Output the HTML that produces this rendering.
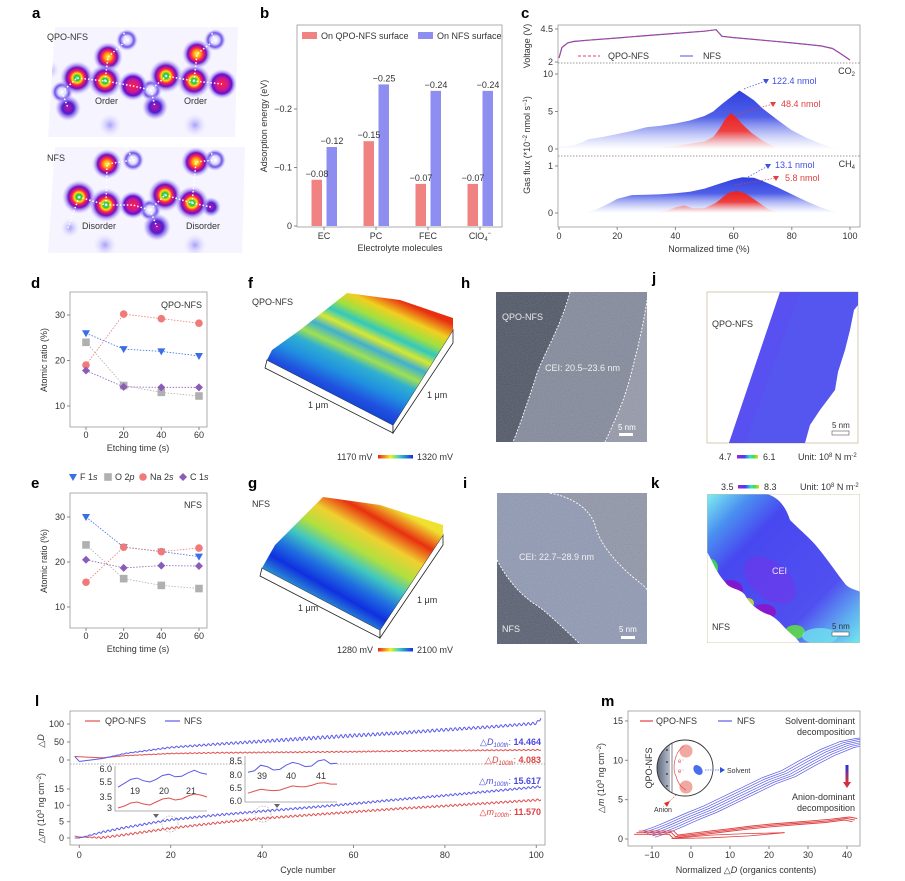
<!DOCTYPE html>
<html><head><meta charset="utf-8">
<style>
body{margin:0;background:#fff;}
svg{display:block;font-family:"Liberation Sans",sans-serif;}
.pl{font-weight:bold;font-size:15px;fill:#000;}
.tk{font-size:9px;fill:#333;}
.lb{font-size:9px;fill:#333;}
</style></head>
<body>
<svg id="fig" width="905" height="881" viewBox="0 0 905 881" xmlns="http://www.w3.org/2000/svg">
<defs>
<radialGradient id="spotG"><stop offset="0" stop-color="#9cf0ff"/><stop offset="0.14" stop-color="#20c040"/><stop offset="0.28" stop-color="#ffe000"/><stop offset="0.42" stop-color="#ff2050"/><stop offset="0.62" stop-color="#7010c0"/><stop offset="0.8" stop-color="#9a80f0" stop-opacity="0.6"/><stop offset="1" stop-color="#c8c0ff" stop-opacity="0"/></radialGradient>
<radialGradient id="spotY"><stop offset="0" stop-color="#fff080"/><stop offset="0.22" stop-color="#ffb000"/><stop offset="0.42" stop-color="#ff2050"/><stop offset="0.62" stop-color="#7010c0"/><stop offset="0.8" stop-color="#9a80f0" stop-opacity="0.6"/><stop offset="1" stop-color="#c8c0ff" stop-opacity="0"/></radialGradient>
<radialGradient id="spotR"><stop offset="0" stop-color="#ff2040"/><stop offset="0.4" stop-color="#d01890"/><stop offset="0.65" stop-color="#6010d0"/><stop offset="0.82" stop-color="#9a80f0" stop-opacity="0.6"/><stop offset="1" stop-color="#c8c0ff" stop-opacity="0"/></radialGradient>
<radialGradient id="spotP"><stop offset="0" stop-color="#c010a0"/><stop offset="0.45" stop-color="#5020d0"/><stop offset="0.75" stop-color="#9a80f0" stop-opacity="0.6"/><stop offset="1" stop-color="#c8c0ff" stop-opacity="0"/></radialGradient>
<radialGradient id="spotW"><stop offset="0" stop-color="#ffffff"/><stop offset="0.35" stop-color="#e0e0ff"/><stop offset="0.65" stop-color="#7050e8"/><stop offset="1" stop-color="#c8c0ff" stop-opacity="0"/></radialGradient>
<radialGradient id="spotF"><stop offset="0" stop-color="#a8a0f8"/><stop offset="1" stop-color="#e8e6ff" stop-opacity="0"/></radialGradient>
<linearGradient id="gradBlue" x1="0" y1="0" x2="0" y2="1"><stop offset="0" stop-color="#3040e0"/><stop offset="0.45" stop-color="#5060e8"/><stop offset="1" stop-color="#ffffff" stop-opacity="0.6"/></linearGradient>
<linearGradient id="gradRed" x1="0" y1="0" x2="0" y2="1"><stop offset="0" stop-color="#e82020"/><stop offset="0.5" stop-color="#ee4040"/><stop offset="1" stop-color="#ffffff" stop-opacity="0.6"/></linearGradient>
<linearGradient id="surfF" gradientUnits="userSpaceOnUse" x1="400" y1="300" x2="350" y2="410">
<stop offset="0" stop-color="#e83010"/><stop offset="0.12" stop-color="#f0d020"/><stop offset="0.22" stop-color="#a0e040"/><stop offset="0.3" stop-color="#30c8c0"/><stop offset="0.38" stop-color="#d8e830"/><stop offset="0.46" stop-color="#40b0d0"/><stop offset="0.55" stop-color="#a0e050"/><stop offset="0.63" stop-color="#30b0d0"/><stop offset="0.75" stop-color="#2090e0"/><stop offset="0.88" stop-color="#2050e0"/><stop offset="1" stop-color="#1040d0"/></linearGradient>
<linearGradient id="surfG" gradientUnits="userSpaceOnUse" x1="390" y1="505" x2="330" y2="610">
<stop offset="0" stop-color="#f0e030"/><stop offset="0.15" stop-color="#e83010"/><stop offset="0.3" stop-color="#f0d030"/><stop offset="0.45" stop-color="#b0e040"/><stop offset="0.58" stop-color="#40c8c0"/><stop offset="0.72" stop-color="#2070e0"/><stop offset="0.85" stop-color="#1030e0"/><stop offset="1" stop-color="#30a0d0"/></linearGradient>
<linearGradient id="cbJet" x1="0" x2="1"><stop offset="0" stop-color="#f02010"/><stop offset="0.35" stop-color="#f0f020"/><stop offset="0.6" stop-color="#40d0c0"/><stop offset="1" stop-color="#1030e0"/></linearGradient>
<linearGradient id="cbStress" x1="0" x2="1"><stop offset="0" stop-color="#a020e0"/><stop offset="0.35" stop-color="#4040f0"/><stop offset="0.6" stop-color="#30e0d0"/><stop offset="0.8" stop-color="#40e040"/><stop offset="1" stop-color="#f0d020"/></linearGradient>
<linearGradient id="arrowGrad" x1="0" y1="0" x2="0" y2="1"><stop offset="0" stop-color="#2030e0"/><stop offset="1" stop-color="#e03030"/></linearGradient>
<linearGradient id="kBg" gradientUnits="userSpaceOnUse" x1="707" y1="494" x2="860" y2="643"><stop offset="0" stop-color="#80f0f0"/><stop offset="0.15" stop-color="#4a90f0"/><stop offset="0.3" stop-color="#4848f0"/><stop offset="0.72" stop-color="#5050f0"/><stop offset="0.88" stop-color="#60b0f0"/><stop offset="1" stop-color="#70e8f0"/></linearGradient>
<linearGradient id="insetDark" x1="0" x2="1"><stop offset="0" stop-color="#505a70"/><stop offset="1" stop-color="#b8c0d0"/></linearGradient>
<filter id="noise" x="0" y="0" width="100%" height="100%"><feTurbulence type="fractalNoise" baseFrequency="0.9" numOctaves="2" seed="3"/><feColorMatrix type="matrix" values="0 0 0 0 1  0 0 0 0 1  0 0 0 0 1  0 0 0 0.55 0"/></filter>
<clipPath id="clipA1"><polygon points="55,27 238,27 235,137 48,137"/></clipPath>
<clipPath id="clipA2"><polygon points="55,147 245,147 242,253 48,253"/></clipPath>
<clipPath id="clipH"><rect x="496" y="292" width="151" height="150"/></clipPath>
<clipPath id="clipI"><rect x="497" y="493" width="150" height="151"/></clipPath>
<clipPath id="clipK"><rect x="707" y="494" width="153" height="149"/></clipPath>
<clipPath id="clipL"><rect x="70" y="711" width="475" height="134"/></clipPath>
<clipPath id="clipM"><rect x="628" y="711" width="232" height="135"/></clipPath>
<clipPath id="clipCirc"><circle cx="685" cy="768" r="28"/></clipPath>
</defs>

<text class="pl" x="32" y="18">a</text>
<text class="pl" x="260" y="18">b</text>
<text class="pl" x="521" y="18">c</text>
<text class="pl" x="31" y="288">d</text>
<text class="pl" x="31" y="488">e</text>
<text class="pl" x="248" y="288">f</text>
<text class="pl" x="248" y="488">g</text>
<text class="pl" x="461" y="288">h</text>
<text class="pl" x="463" y="488">i</text>
<text class="pl" x="652" y="283">j</text>
<text class="pl" x="651" y="488">k</text>
<text class="pl" x="35" y="706">l</text>
<text class="pl" x="601" y="706">m</text>

<!-- Panel a -->
<g clip-path="url(#clipA1)">
<rect x="40" y="20" width="210" height="125" fill="#f6f5ff"/>
<circle cx="110" cy="125" r="12" fill="url(#spotF)"/><circle cx="195" cy="125" r="12" fill="url(#spotF)"/><circle cx="50" cy="70" r="10" fill="url(#spotF)"/>
<circle cx="62" cy="92" r="11" fill="url(#spotW)"/><circle cx="151" cy="90" r="11" fill="url(#spotW)"/><circle cx="127" cy="40" r="11" fill="url(#spotW)"/><circle cx="215" cy="40" r="11" fill="url(#spotW)"/>
<circle cx="68" cy="108" r="13" fill="url(#spotP)"/><circle cx="155" cy="107" r="13" fill="url(#spotP)"/>
<circle cx="133" cy="86" r="15" fill="url(#spotR)"/><circle cx="222" cy="84" r="15" fill="url(#spotR)"/>
<circle cx="108" cy="57" r="15" fill="url(#spotY)"/><circle cx="197" cy="54" r="15" fill="url(#spotY)"/>
<circle cx="77" cy="78" r="17" fill="url(#spotG)"/><circle cx="105" cy="81" r="17" fill="url(#spotG)"/><circle cx="166" cy="76" r="17" fill="url(#spotG)"/><circle cx="194" cy="81" r="17" fill="url(#spotG)"/>
<polyline points="62,92 77,78 105,81 133,86 151,90 166,76 194,81 222,84" fill="none" stroke="#fff" stroke-width="1.5" stroke-dasharray="1.5,2"/>
<polyline points="62,92 68,108" fill="none" stroke="#fff" stroke-width="1.5" stroke-dasharray="1.5,2"/>
<polyline points="151,90 155,107" fill="none" stroke="#fff" stroke-width="1.5" stroke-dasharray="1.5,2"/>
<polyline points="105,81 108,57 127,40 120,25" fill="none" stroke="#fff" stroke-width="1.5" stroke-dasharray="1.5,2"/>
<polyline points="194,81 197,54 215,40 208,25" fill="none" stroke="#fff" stroke-width="1.5" stroke-dasharray="1.5,2"/>
</g>
<text class="lb" x="47" y="40">QPO-NFS</text>
<text class="lb" x="95" y="104">Order</text>
<text class="lb" x="184" y="104">Order</text>
<g clip-path="url(#clipA2)">
<rect x="40" y="140" width="215" height="120" fill="#f6f5ff"/>
<circle cx="70" cy="228" r="10" fill="url(#spotF)"/><circle cx="105" cy="245" r="12" fill="url(#spotF)"/><circle cx="195" cy="245" r="12" fill="url(#spotF)"/>
<circle cx="150" cy="210" r="11" fill="url(#spotW)"/><circle cx="133" cy="160" r="11" fill="url(#spotW)"/><circle cx="215" cy="160" r="11" fill="url(#spotW)"/>
<circle cx="157" cy="227" r="14" fill="url(#spotP)"/><circle cx="211" cy="207" r="10" fill="url(#spotP)"/>
<circle cx="133" cy="205" r="14" fill="url(#spotR)"/>
<circle cx="107" cy="164" r="15" fill="url(#spotY)"/><circle cx="196" cy="162" r="15" fill="url(#spotY)"/>
<circle cx="79" cy="197" r="17" fill="url(#spotG)"/><circle cx="106" cy="205" r="17" fill="url(#spotG)"/><circle cx="165" cy="195" r="17" fill="url(#spotG)"/><circle cx="192" cy="203" r="17" fill="url(#spotG)"/>
<polyline points="79,197 106,205 133,205 150,210 165,195 192,203 211,207" fill="none" stroke="#fff" stroke-width="1.5" stroke-dasharray="1.5,2"/>
<polyline points="150,210 157,227" fill="none" stroke="#fff" stroke-width="1.5" stroke-dasharray="1.5,2"/>
<polyline points="79,197 68,228" fill="none" stroke="#fff" stroke-width="1.5" stroke-dasharray="1.5,2"/>
<polyline points="106,205 107,164 133,160 125,145" fill="none" stroke="#fff" stroke-width="1.5" stroke-dasharray="1.5,2"/>
<polyline points="192,203 196,162 215,160 207,145" fill="none" stroke="#fff" stroke-width="1.5" stroke-dasharray="1.5,2"/>
</g>
<text class="lb" x="47" y="161">NFS</text>
<text class="lb" x="82" y="229">Disorder</text>
<text class="lb" x="186" y="229">Disorder</text>

<!-- Panel f -->
<g>
<polygon points="267,360 393,425 393,433 265,368" fill="#fff" stroke="#222" stroke-width="0.8"/>
<polygon points="393,425 453,330 453,343 393,433" fill="#fff" stroke="#222" stroke-width="0.8"/>
<polygon points="267,360 272,350 300,330 347,293 400,300 453,318 453,330 393,425" fill="url(#surfF)"/>
</g>
<text class="lb" x="252" y="305">QPO-NFS</text>
<text class="lb" x="308" y="408">1 μm</text>
<text class="lb" x="427" y="398">1 μm</text>
<text class="lb" x="337" y="460">1170 mV</text>
<rect x="378" y="455" width="35" height="3.5" fill="url(#cbJet)"/>
<text class="lb" x="417" y="460">1320 mV</text>

<!-- Panel g -->
<g>
<polygon points="262,568 380,630 380,638 260,576" fill="#fff" stroke="#222" stroke-width="0.8"/>
<polygon points="380,630 443,535 443,545 380,638" fill="#fff" stroke="#222" stroke-width="0.8"/>
<polygon points="262,568 275,545 300,520 323,497 380,505 443,525 443,535 380,630" fill="url(#surfG)"/>
</g>
<text class="lb" x="252" y="507">NFS</text>
<text class="lb" x="298" y="611">1 μm</text>
<text class="lb" x="417" y="603">1 μm</text>
<text class="lb" x="337" y="653">1280 mV</text>
<rect x="378" y="648" width="35" height="3.5" fill="url(#cbJet)"/>
<text class="lb" x="417" y="653">2100 mV</text>

<!-- Panel h -->
<g clip-path="url(#clipH)">
<rect x="496" y="292" width="151" height="150" fill="#4c5262"/>
<path d="M570,292 C560,330 540,360 535,380 C528,400 522,420 513,442 L605,442 C615,420 625,400 632,370 C640,340 645,315 647,300 L647,292 Z" fill="#7e8496"/>
<path d="M647,300 C645,315 640,340 632,370 C625,400 615,420 605,442 L647,442 Z" fill="#8f93a3"/>
<rect x="496" y="292" width="151" height="150" filter="url(#noise)" opacity="0.35"/>
<path d="M570,292 C560,330 540,360 535,380 C528,400 522,420 513,442" fill="none" stroke="#fff" stroke-width="0.9" stroke-dasharray="2,1.5"/>
<path d="M647,300 C645,315 640,340 632,370 C625,400 615,420 605,442" fill="none" stroke="#fff" stroke-width="0.9" stroke-dasharray="2,1.5"/>
<rect x="619" y="433" width="14" height="3" fill="#fff"/>
</g>
<text class="lb" x="502" y="320" style="fill:#e8e8e8">QPO-NFS</text>
<text class="lb" x="545" y="371" style="fill:#f0f0f0">CEI: 20.5–23.6 nm</text>
<text class="lb" x="618" y="430" style="fill:#fff;font-size:8px">5 nm</text>

<!-- Panel i -->
<g clip-path="url(#clipI)">
<rect x="497" y="493" width="150" height="151" fill="#8b90a2"/>
<path d="M550,493 C575,498 590,510 595,525 C600,545 615,560 625,570 C635,580 645,585 647,590 L647,644 L580,644 C560,625 545,610 533,603 C515,590 505,575 497,560 L497,493 Z" fill="#8a93ad"/>
<path d="M497,560 C505,575 515,590 533,603 C545,610 560,625 580,644 L497,644 Z" fill="#545b6c"/>
<rect x="497" y="493" width="150" height="151" filter="url(#noise)" opacity="0.35"/>
<path d="M550,493 C575,498 590,510 595,525 C600,545 615,560 625,570 C635,580 645,585 647,590" fill="none" stroke="#fff" stroke-width="0.9" stroke-dasharray="2,1.5"/>
<path d="M497,560 C505,575 515,590 533,603 C545,610 560,625 580,644" fill="none" stroke="#fff" stroke-width="0.9" stroke-dasharray="2,1.5"/>
<rect x="621" y="636" width="14" height="3" fill="#fff"/>
</g>
<text class="lb" x="519" y="560" style="fill:#f0f0f0">CEI: 22.7–28.9 nm</text>
<text class="lb" x="502" y="632" style="fill:#f0f0f0">NFS</text>
<text class="lb" x="619" y="632" style="fill:#fff;font-size:8px">5 nm</text>

<!-- Panel j -->
<g>
<rect x="707" y="292" width="151" height="151" fill="#fff" stroke="#c8c0a0" stroke-width="0.8"/>
<polygon points="780,292 858,292 858,305 854,310 850,330 845,350 838,372 835,390 820,410 810,425 805,443 729,443" fill="#5555f0"/>
<polygon points="780,292 800,292 745,443 729,443" fill="#5a4cf0" opacity="0.6"/>
<rect x="832" y="431" width="17" height="4" fill="#fff" stroke="#555" stroke-width="0.6"/>
</g>
<text class="lb" x="712" y="327">QPO-NFS</text>
<text class="lb" x="832" y="428" style="font-size:8px">5 nm</text>
<text class="lb" x="719" y="460">4.7</text>
<rect x="737" y="455" width="21" height="3.5" fill="url(#cbStress)"/>
<text class="lb" x="763" y="460">6.1</text>
<text class="lb" x="798" y="460">Unit: 10<tspan font-size="6" dy="-3">8</tspan><tspan dy="3"> N m</tspan><tspan font-size="6" dy="-3">-2</tspan></text>

<!-- Panel k -->
<text class="lb" x="721" y="490">3.5</text>
<rect x="738" y="485" width="21" height="3.5" fill="url(#cbStress)"/>
<text class="lb" x="764" y="490">8.3</text>
<text class="lb" x="800" y="490">Unit: 10<tspan font-size="6" dy="-3">8</tspan><tspan dy="3"> N m</tspan><tspan font-size="6" dy="-3">-2</tspan></text>
<g clip-path="url(#clipK)">
<rect x="707" y="494" width="153" height="149" fill="url(#kBg)"/>
<ellipse cx="770" cy="580" rx="30" ry="18" fill="#7a30e8" opacity="0.5" transform="rotate(40 770 580)"/>
<ellipse cx="730" cy="590" rx="13" ry="10" fill="#8a10c8" opacity="0.85"/>
<ellipse cx="764" cy="612" rx="12" ry="8" fill="#9010c8" opacity="0.85"/>
<ellipse cx="748" cy="603" rx="6" ry="5" fill="#d0e030" opacity="0.85"/>
<ellipse cx="711" cy="568" rx="7" ry="9" fill="#40e040" opacity="0.85"/>
<ellipse cx="795" cy="632" rx="10" ry="7" fill="#60e040" opacity="0.85"/>
<ellipse cx="820" cy="636" rx="18" ry="8" fill="#70e0f0" opacity="0.8"/>
<path d="M767,494 C780,498 786,508 790,520 C800,530 812,540 818,548 C828,560 838,575 846,585 C852,590 858,590 860,592 L860,494 Z" fill="#fff"/>
<path d="M707,552 C712,560 716,572 725,582 C730,590 740,588 745,595 C750,605 760,612 770,615 C780,620 785,630 795,637 L800,643 L707,643 Z" fill="#fff"/>
<rect x="707" y="494" width="153" height="149" fill="none" stroke="#c8c0a0" stroke-width="0.8"/>
<rect x="832" y="632" width="17" height="4" fill="#fff" stroke="#555" stroke-width="0.6"/>
</g>
<text class="lb" x="772" y="574" style="fill:#e8e8ff">CEI</text>
<text class="lb" x="712" y="630">NFS</text>
<text class="lb" x="832" y="629" style="font-size:8px">5 nm</text>

<g id="charts"></g>
</svg>

<script>
const NS = 'http://www.w3.org/2000/svg';
const root = document.getElementById('charts');
function mk(tag, attrs, parent) {
  const e = document.createElementNS(NS, tag);
  for (const k in attrs) e.setAttribute(k, attrs[k]);
  (parent || root).appendChild(e);
  return e;
}
function txt(x, y, s, cls, anchor, parent) {
  const t = mk('text', {x: x, y: y, class: cls || 'tk', 'text-anchor': anchor || 'start'}, parent);
  t.textContent = s;
  return t;
}
function pts(xs, ys, fx, fy) { return xs.map((v, i) => fx(v).toFixed(1) + ',' + fy(ys[i]).toFixed(1)).join(' '); }

/* ===== Panel b data ===== */
const bCats = ['EC', 'PC', 'FEC', 'ClO4'];
const bQpo = [-0.079, -0.145, -0.072, -0.072];
const bNfs = [-0.135, -0.242, -0.231, -0.231];
const bQpoLabels = ['−0.08', '−0.15', '−0.07', '−0.07'];
const bNfsLabels = ['−0.12', '−0.25', '−0.24', '−0.24'];
const bTicks = [0, -0.1, -0.2];
const bTickLabels = ['0', '−0.1', '−0.2'];

/* ===== Panel c data ===== */
const cTime = [0, 1, 3, 5, 10, 20, 30, 40, 50, 54, 55, 56, 60, 70, 80, 90, 94, 97, 100];
const cVolt = [2.3, 3.1, 3.45, 3.55, 3.65, 3.82, 4.0, 4.17, 4.33, 4.45, 4.2, 3.95, 3.85, 3.65, 3.45, 3.22, 3.02, 2.6, 2.15];
const cCo2T = [0, 5, 8, 10, 15, 20, 25, 30, 35, 40, 45, 50, 53, 56, 59, 62, 64, 67, 70, 75, 80, 85, 90, 93, 96, 100];
const cCo2Nfs = [0.3, 0.5, 0.9, 1.3, 1.6, 2.0, 2.4, 2.9, 3.1, 3.4, 3.8, 4.4, 5.0, 6.0, 6.9, 7.8, 7.3, 6.5, 5.4, 3.9, 2.5, 1.5, 0.7, 0.3, 0.05, 0];
const cCo2QT = [30, 35, 40, 45, 50, 53, 55, 57, 59, 61, 63, 66, 70, 74, 78];
const cCo2Qpo = [0, 0.2, 0.4, 0.7, 1.0, 1.6, 2.6, 3.9, 4.8, 4.2, 3.3, 2.2, 1.1, 0.3, 0];
const cCh4T = [0, 10, 13, 17, 20, 25, 30, 35, 40, 45, 50, 55, 60, 63, 67, 70, 75, 80, 85, 90, 95, 100];
const cCh4Nfs = [0, 0.02, 0.08, 0.2, 0.3, 0.38, 0.39, 0.4, 0.42, 0.45, 0.52, 0.62, 0.72, 0.76, 0.75, 0.68, 0.55, 0.4, 0.25, 0.12, 0.02, 0];
const cCh4QT = [32, 37, 40, 43, 46, 50, 54, 58, 61, 64, 68, 72, 76];
const cCh4Qpo = [0, 0.05, 0.12, 0.16, 0.1, 0.1, 0.22, 0.42, 0.47, 0.42, 0.25, 0.08, 0];
const cXTicks = [0, 20, 40, 60, 80, 100];

/* ===== Panels d,e data ===== */
const dTime = [0, 20, 40, 60];
const dF = [26, 22.5, 22, 21];
const dO = [24, 14.5, 13, 12.2];
const dNa = [19, 30.2, 29.2, 28.2];
const dC = [17.8, 14.2, 14.1, 14.1];
const eF = [30, 23.3, 22.3, 21.2];
const eO = [23.8, 16.3, 14.8, 14.1];
const eNa = [15.5, 23.3, 22.3, 23.1];
const eC = [20.5, 18.7, 19.2, 19.1];
const deYTicks = [10, 20, 30];

/* ===== Panel l data ===== */
const lCycles = [-1, 0, 5, 10, 20, 30, 40, 50, 60, 70, 80, 90, 100, 101];
const lNfsD = [10, -4, 4, 18, 35, 44, 52, 60, 68, 75, 84, 92, 102, 116];
const lQpoD = [10, 9, 6, 12, 18, 20, 21, 22, 23, 25, 26, 27, 28, 28];
const lNfsDAmp = [0, 0, 0, 1, 2, 3, 4, 4.5, 4.5, 4, 4, 3.5, 3.5, 3.5];
const lQpoDAmp = [0, 0, 0, 0.5, 1, 1.5, 1.5, 1.5, 1.5, 1.5, 1.5, 1.5, 1.5, 1.5];
const lNfsM = [0, 0, 1.8, 3.2, 5.6, 7.0, 8.2, 9.3, 10.5, 11.8, 13.0, 14.3, 15.6, 15.7];
const lQpoM = [0.6, 0.3, 0.1, 1.0, 3.0, 4.6, 6.0, 7.0, 8.0, 9.0, 9.8, 10.7, 11.6, 11.7];
const lMAmp = [0, 0, 0.3, 0.3, 0.3, 0.3, 0.3, 0.3, 0.3, 0.3, 0.3, 0.3, 0.3, 0.3];
const lXTicks = [0, 20, 40, 60, 80, 100];
const lDTicks = [0, 50, 100];
const lMTicks = [0, 5, 10, 15];
const in1Nfs = [5.3, 5.45, 5.6, 5.65, 5.55, 5.5, 5.6, 5.75, 5.8, 5.7, 5.72, 5.85, 5.95, 5.85, 5.8];
const in1Qpo = [3.0, 3.1, 3.25, 3.3, 3.2, 3.15, 3.3, 3.45, 3.5, 3.4, 3.45, 3.6, 3.7, 3.65, 3.55];
const in2Nfs = [8.1, 8.15, 8.35, 8.3, 8.18, 8.2, 8.35, 8.45, 8.4, 8.3, 8.32, 8.5, 8.55, 8.4, 8.42];
const in2Qpo = [6.3, 6.38, 6.45, 6.42, 6.4, 6.42, 6.5, 6.58, 6.55, 6.55, 6.6, 6.68, 6.7, 6.65, 6.65];

/* ===== Panel m data ===== */
const mNfsX = [-11, -8, -5, 0, 5, 10, 15, 20, 25, 30, 35, 40, 44, 46];
const mNfsY = [0.6, 1.1, 1.7, 2.8, 3.8, 5.0, 6.2, 7.4, 8.3, 9.7, 11.0, 12.0, 12.4, 12.5];
const mQpoX = [-14, -5, -4, 0, 5, 10, 15, 20, 25, 30, 35, 40, 42];
const mQpoY = [0.8, 0.8, 0.3, 0.55, 0.85, 1.15, 1.45, 1.7, 1.9, 2.1, 2.3, 2.6, 2.4];
const mLoopX = [-5, 5, 15, 24, 15, 5, -5];
const mLoopY = [0.05, 0.15, 0.4, 0.8, 0.7, 0.5, 0.05];
const mXTicks = [-10, 0, 10, 20, 30, 40];
const mYTicks = [0, 5, 10, 15];

function interp(xs, ys, x) {
  if (x <= xs[0]) return ys[0];
  for (let i = 1; i < xs.length; i++) if (x <= xs[i]) { const f = (x - xs[i-1]) / (xs[i] - xs[i-1]); return ys[i-1] + f * (ys[i] - ys[i-1]); }
  return ys[ys.length - 1];
}

/* ===== Draw panel b ===== */
(function(){
  const g = mk('g', {});
  
  
  const xB = i => 324 + 52 * i;
  const yB = v => 226 + v * 585;
  const frame = mk('rect', {x: 297, y: 25, width: 205, height: 202, fill: 'none', stroke: '#999', 'stroke-width': 0.8}, g);
  
  
  bTicks.forEach((v, i) => {
    mk('line', {x1: 294, x2: 297, y1: yB(v), y2: yB(v), stroke: '#888'}, g);
    const t = txt(292, yB(v) + 3, bTickLabels[i], 'tk', 'end', g);
    
    
  });
  bCats.forEach((c, i) => {
    const r = mk('rect', {x: xB(i) - 12.5, y: yB(bQpo[i]), width: 10.5, height: 226 - yB(bQpo[i]), fill: '#f08282'}, g);
    
    
    const b = mk('rect', {x: xB(i) + 2.5, y: yB(bNfs[i]), width: 10.5, height: 226 - yB(bNfs[i]), fill: '#8e8ef0'}, g);
    
    
    const l1 = txt(xB(i) - 7, yB(bQpo[i]) - 3, bQpoLabels[i], 'tk', 'middle', g);
    
    
    const l2 = txt(xB(i) + 8, yB(bNfs[i]) - 3, bNfsLabels[i], 'tk', 'middle', g);
    
    
    mk('line', {x1: xB(i), x2: xB(i), y1: 227, y2: 230, stroke: '#888'}, g);
    const ct = txt(xB(i), 239, c === 'ClO4' ? '' : c, 'tk', 'middle', g);
    if (c === 'ClO4') { ct.innerHTML = 'ClO<tspan font-size="6" dy="2">4</tspan><tspan font-size="6" dy="-6">−</tspan>'; }
    
    
  });
  const xt = txt(400, 251, 'Electrolyte molecules', 'lb', 'middle', g);
  
  
  const yt = txt(0, 0, 'Adsorption energy (eV)', 'lb', 'middle', g);
  yt.setAttribute('transform', 'translate(267,126) rotate(-90)');
  
  
  const s1 = mk('rect', {x: 302, y: 32, width: 15, height: 7, fill: '#f08282'}, g);
  
  
  const lt1 = txt(321, 39, 'On QPO-NFS surface', 'tk', 'start', g);
  
  
  const s2 = mk('rect', {x: 418, y: 32, width: 15, height: 7, fill: '#8e8ef0'}, g);
  
  
  const lt2 = txt(437, 39, 'On NFS surface', 'tk', 'start', g);
  
  
})();

/* ===== Draw panel c ===== */
(function(){
  const g = mk('g', {});
  
  
  const xC = t => 559 + t * 2.91;
  const yV = v => 29 + (4.5 - v) * 13.2;
  const yCo = v => 149 - v * 7.5;
  const yCh = v => 213 - v * 47;
  const frame = mk('rect', {x: 558, y: 25, width: 302, height: 202, fill: 'none', stroke: '#999', 'stroke-width': 0.8}, g);
  
  
  [63, 156].forEach(y => {
    const d = mk('line', {x1: 558, x2: 860, y1: y, y2: y, stroke: '#999', 'stroke-dasharray': '1.5,1.5'}, g);
    
    
  });
  function area(xs, ys, fy, base, fill, name) {
    const p = mk('polygon', {points: xC(xs[0]) + ',' + base + ' ' + pts(xs, ys, xC, fy) + ' ' + xC(xs[xs.length-1]) + ',' + base, fill: fill}, g);
    
    
  }
  area(cCo2T, cCo2Nfs, yCo, 149, 'url(#gradBlue)', 'area-co2-nfs');
  area(cCo2QT, cCo2Qpo, yCo, 149, 'url(#gradRed)', 'area-co2-qpo-nfs');
  area(cCh4T, cCh4Nfs, yCh, 213, 'url(#gradBlue)', 'area-ch4-nfs');
  area(cCh4QT, cCh4Qpo, yCh, 213, 'url(#gradRed)', 'area-ch4-qpo-nfs');
  const vn = mk('polyline', {points: pts(cTime, cVolt, xC, yV), fill: 'none', stroke: '#5050e0', 'stroke-width': 1.2}, g);
  
  
  const vq = mk('polyline', {points: pts(cTime, cVolt, xC, yV), fill: 'none', stroke: '#e04060', 'stroke-width': 1, 'stroke-dasharray': '3,2'}, g);
  
  
  [[4.5, yV, '4.5'], [2, yV, '2'], [10, yCo, '10'], [5, yCo, '5'], [0, yCo, '0'], [1, yCh, '1'], [0, yCh, '0']].forEach(a => {
    mk('line', {x1: 555, x2: 558, y1: a[1](a[0]), y2: a[1](a[0]), stroke: '#888'}, g);
    const t = txt(553, a[1](a[0]) + 3, a[2], 'tk', 'end', g);
    
    
  });
  cXTicks.forEach(v => {
    mk('line', {x1: xC(v), x2: xC(v), y1: 227, y2: 230, stroke: '#888'}, g);
    const t = txt(xC(v), 239, String(v), 'tk', 'middle', g);
    
    
  });
  const xt = txt(709, 252, 'Normalized time (%)', 'lb', 'middle', g);
  
  
  const yt1 = txt(0, 0, 'Voltage (V)', 'lb', 'middle', g);
  yt1.setAttribute('transform', 'translate(530,46) rotate(-90)');
  
  
  const yt2 = txt(0, 0, '', 'lb', 'middle', g);
  yt2.innerHTML = 'Gas flux (*10<tspan font-size="6" dy="-3">−2</tspan><tspan dy="3"> nmol s</tspan><tspan font-size="6" dy="-3">−1</tspan><tspan dy="3">)</tspan>';
  yt2.setAttribute('transform', 'translate(530,145) rotate(-90)');
  
  
  const lg1 = mk('line', {x1: 578, x2: 600, y1: 56, y2: 56, stroke: '#e04060', 'stroke-dasharray': '3,2'}, g);
  
  
  const lt1 = txt(608, 59, 'QPO-NFS', 'tk', 'start', g);
  
  
  const lg2 = mk('line', {x1: 680, x2: 693, y1: 56, y2: 56, stroke: '#5050e0'}, g);
  
  
  const lt2 = txt(703, 59, 'NFS', 'tk', 'start', g);
  
  
  const co = txt(855, 74, '', 'tk', 'end', g);
  co.innerHTML = 'CO<tspan font-size="6" dy="2">2</tspan>';
  
  
  const ch = txt(855, 167, '', 'tk', 'end', g);
  ch.innerHTML = 'CH<tspan font-size="6" dy="2">4</tspan>';
  
  
  [[744, 89, 766, 81, '#4050e0', '122.4 nmol', 772, 84], [731, 116, 773, 104, '#e04040', '48.4 nmol', 781, 107],
   [748, 177, 768, 166, '#4050e0', '13.1 nmol', 775, 168], [735, 185, 776, 178, '#e04040', '5.8 nmol', 785, 181]].forEach(a => {
    mk('line', {x1: a[0], y1: a[1], x2: a[2], y2: a[3], stroke: a[4], 'stroke-width': 0.7, 'stroke-dasharray': '1.5,1.5'}, g);
    mk('polygon', {points: (a[2]-3) + ',' + (a[3]-2) + ' ' + (a[2]+3) + ',' + (a[3]-2) + ' ' + a[2] + ',' + (a[3]+3), fill: a[4]}, g);
    const t = txt(a[6], a[7], a[5], 'tk', 'start', g);
    t.style.fill = a[4];
    
    
  });
})();

/* ===== Draw panels d,e ===== */
function marker(x, y, type, color, g) {
  if (type === 'tri') return mk('polygon', {points: (x-4) + ',' + (y-3) + ' ' + (x+4) + ',' + (y-3) + ' ' + x + ',' + (y+4), fill: color}, g);
  if (type === 'sq') return mk('rect', {x: x-3.8, y: y-3.8, width: 7.6, height: 7.6, fill: color}, g);
  if (type === 'dia') return mk('polygon', {points: x + ',' + (y-4) + ' ' + (x+4) + ',' + y + ' ' + x + ',' + (y+4) + ' ' + (x-4) + ',' + y, fill: color}, g);
  return mk('circle', {cx: x, cy: y, r: 3.8, fill: color}, g);
}
function drawXps(top, y30, y10, series, name, tag) {
  const g = mk('g', {});
  
  
  const xD = t => 86 + t * 1.883;
  const yD = v => y30 + (30 - v) * (y10 - y30) / 20;
  const frame = mk('rect', {x: 70, y: top, width: 137, height: 135, fill: 'none', stroke: '#999', 'stroke-width': 0.8}, g);
  
  
  deYTicks.forEach(v => {
    mk('line', {x1: 67, x2: 70, y1: yD(v), y2: yD(v), stroke: '#888'}, g);
    const t = txt(65, yD(v) + 3, String(v), 'tk', 'end', g);
    
    
  });
  dTime.forEach(v => {
    mk('line', {x1: xD(v), x2: xD(v), y1: top + 135, y2: top + 138, stroke: '#888'}, g);
    const t = txt(xD(v), top + 146, String(v), 'tk', 'middle', g);
    
    
  });
  const xt = txt(138, top + 159, 'Etching time (s)', 'lb', 'middle', g);
  
  
  const yt = txt(0, 0, 'Atomic ratio (%)', 'lb', 'middle', g);
  yt.setAttribute('transform', 'translate(47,' + (top + 68) + ') rotate(-90)');
  
  
  series.forEach(s => {
    const ln = mk('polyline', {points: pts(dTime, s.v, xD, yD), fill: 'none', stroke: s.c, 'stroke-width': 0.8, 'stroke-dasharray': '1.5,1.5'}, g);
    
    
    s.v.forEach((v, i) => {
      const m = marker(xD(dTime[i]), yD(v), s.m, s.c, g);
      
      
    });
  });
}
const colF = '#3a6ee8', colO = '#b0b0b0', colNa = '#f07a7a', colC = '#8a5cb8';
drawXps(292, 315, 406, [{v: dF, c: colF, m: 'tri', n: 'f1s'}, {v: dO, c: colO, m: 'sq', n: 'o2p'}, {v: dNa, c: colNa, m: 'circ', n: 'na2s'}, {v: dC, c: colC, m: 'dia', n: 'c1s'}], 'panel-d-xps-qpo-nfs', 'd');
drawXps(493, 517, 607, [{v: eF, c: colF, m: 'tri', n: 'f1s'}, {v: eO, c: colO, m: 'sq', n: 'o2p'}, {v: eNa, c: colNa, m: 'circ', n: 'na2s'}, {v: eC, c: colC, m: 'dia', n: 'c1s'}], 'panel-e-xps-nfs', 'e');
(function(){
  const t1 = txt(202, 308, 'QPO-NFS', 'tk', 'end');
  
  
  const t2 = txt(202, 508, 'NFS', 'tk', 'end');
  
  
  const items = [[73, 'tri', colF, 80, 'F 1', 's'], [108, 'sq', colO, 115, 'O 2', 'p'], [143, 'circ', colNa, 150, 'Na 2', 's'], [183, 'dia', colC, 190, 'C 1', 's']];
  items.forEach(it => {
    const m = marker(it[0], 477, it[1], it[2], root);
    
    
    const t = txt(it[3], 480, '', 'tk', 'start');
    t.innerHTML = it[4] + '<tspan font-style="italic">' + it[5] + '</tspan>';
    
    
  });
})();

/* ===== Draw panel l ===== */
(function(){
  const g = mk('g', {});
  
  
  const xL = c => 79.3 + c * 4.57;
  const yDL = v => 760 - v * 0.36;
  const yM = v => 838 - v * 3.27;
  const frame = mk('rect', {x: 70, y: 711, width: 475, height: 134, fill: 'none', stroke: '#999', 'stroke-width': 0.8}, g);
  
  
  const dv = mk('line', {x1: 70, x2: 545, y1: 764, y2: 764, stroke: '#aaa', 'stroke-dasharray': '1.5,1.5'}, g);
  
  
  const cg = mk('g', {'clip-path': 'url(#clipL)'}, g);
  function ripple(base, amp, fy, color, name) {
    let s = '';
    for (let c = -1; c <= 101.001; c += 0.125) {
      const v = interp(lCycles, base, c) + interp(lCycles, amp, c) * Math.sin(2 * Math.PI * c);
      s += xL(c).toFixed(1) + ',' + fy(v).toFixed(1) + ' ';
    }
    const p = mk('polyline', {points: s, fill: 'none', stroke: color, 'stroke-width': 1}, cg);
    
    
  }
  ripple(lQpoD, lQpoDAmp, yDL, '#e05050', 'line-delta-d-qpo-nfs');
  ripple(lNfsD, lNfsDAmp, yDL, '#5a5ae8', 'line-delta-d-nfs');
  ripple(lQpoM, lMAmp, yM, '#e05050', 'line-delta-m-qpo-nfs');
  ripple(lNfsM, lMAmp, yM, '#5a5ae8', 'line-delta-m-nfs');
  lDTicks.forEach(v => {
    mk('line', {x1: 67, x2: 70, y1: yDL(v), y2: yDL(v), stroke: '#888'}, g);
    const t = txt(64, yDL(v) + 3, String(v), 'tk', 'end', g);
    
    
  });
  lMTicks.forEach(v => {
    mk('line', {x1: 67, x2: 70, y1: yM(v), y2: yM(v), stroke: '#888'}, g);
    const t = txt(64, yM(v) + 3, String(v), 'tk', 'end', g);
    
    
  });
  lXTicks.forEach(v => {
    mk('line', {x1: xL(v), x2: xL(v), y1: 845, y2: 848, stroke: '#888'}, g);
    const t = txt(xL(v), 858, String(v), 'tk', 'middle', g);
    
    
  });
  const xt = txt(308, 873, 'Cycle number', 'lb', 'middle', g);
  
  
  const yt1 = txt(0, 0, '', 'lb', 'middle', g);
  yt1.innerHTML = '△<tspan font-style="italic">D</tspan>';
  yt1.setAttribute('transform', 'translate(44,741) rotate(-90)');
  
  
  const yt2 = txt(0, 0, '', 'lb', 'middle', g);
  yt2.innerHTML = '△<tspan font-style="italic">m</tspan> (10<tspan font-size="6" dy="-3">3</tspan><tspan dy="3"> ng cm</tspan><tspan font-size="6" dy="-3">−2</tspan><tspan dy="3">)</tspan>';
  yt2.setAttribute('transform', 'translate(44,808) rotate(-90)');
  
  
  const l1 = mk('line', {x1: 85, x2: 100, y1: 721, y2: 721, stroke: '#e05050', 'stroke-width': 1.2}, g);
  
  
  const lt1 = txt(105, 724, 'QPO-NFS', 'tk', 'start', g);
  
  
  const l2 = mk('line', {x1: 165, x2: 180, y1: 721, y2: 721, stroke: '#5a5ae8', 'stroke-width': 1.2}, g);
  
  
  const lt2 = txt(184, 724, 'NFS', 'tk', 'start', g);
  
  
  [[541, 745, '#4a4ae0', 'D', '14.464'], [541, 763, '#e04040', 'D', '4.083'], [541, 784, '#4a4ae0', 'm', '15.617'], [541, 815, '#e04040', 'm', '11.570']].forEach(a => {
    const t = txt(a[0], a[1], '', 'tk', 'end', g);
    t.innerHTML = '△<tspan font-style="italic">' + a[3] + '</tspan><tspan font-size="6" dy="2" font-style="italic">100th</tspan><tspan dy="-2">: </tspan><tspan font-weight="bold">' + a[4] + '</tspan>';
    t.style.fill = a[2];
    
    
  });
  function inset(x0, x1, yTop, yBot, nfs, qpo, yn, yq, labels, ticksX, tickLabelsY, name) {
    const ig = mk('g', {}, g);
    
    
    mk('rect', {x: x0, y: yTop, width: x1 - x0, height: yBot - yTop, fill: '#fff'}, ig);
    mk('polyline', {points: x0 + ',' + yTop + ' ' + x0 + ',' + yBot + ' ' + x1 + ',' + yBot, fill: 'none', stroke: '#999', 'stroke-width': 0.8}, ig);
    const xi = i => x0 + 3 + i * (x1 - x0 - 3) / (nfs.length - 1);
    const idx = nfs.map((v, i) => i);
    const pn = mk('polyline', {points: pts(idx, nfs, xi, yn), fill: 'none', stroke: '#5a5ae8', 'stroke-width': 1}, ig);
    
    
    const pq = mk('polyline', {points: pts(idx, qpo, xi, yq), fill: 'none', stroke: '#e05050', 'stroke-width': 1}, ig);
    
    
    labels.forEach((s, i) => { const t = txt(ticksX[i], tickLabelsY, s, 'tk', 'middle', ig);   });
    return ig;
  }
  const i1 = inset(115, 207, 766, 811, in1Nfs, in1Qpo, v => 769 - (v - 6.0) * 26, v => 808 - (v - 3) * 20, ['19', '20', '21'], [135, 164, 191], 794, 'inset-cycles-19-21');
  [['6.0', 772], ['5.5', 785], ['3.5', 800], ['3', 811]].forEach(a => { const t = txt(112, a[1], a[0], 'tk', 'end', i1);   });
  const i2 = inset(245, 337, 756, 802, in2Nfs, in2Qpo, v => 761 - (v - 8.5) * 28, v => 801 - (v - 6.0) * 26, ['39', '40', '41'], [262, 291, 321], 779, 'inset-cycles-39-41');
  [['8.5', 764], ['8.0', 778], ['6.5', 791], ['6.0', 804]].forEach(a => { const t = txt(242, a[1], a[0], 'tk', 'end', i2);   });
  [[170, 824], [263, 814]].forEach(c => { const e = mk('circle', {cx: c[0], cy: c[1], r: 8, fill: 'none', stroke: '#aaa', 'stroke-width': 0.7, 'stroke-dasharray': '1.5,1.5'}, g);   });
  mk('polygon', {points: '153,814 159,814 156,818', fill: '#666'}, g);
  mk('polygon', {points: '274,804 280,804 277,808', fill: '#666'}, g);
})();

/* ===== Draw panel m ===== */
(function(){
  const g = mk('g', {});
  
  
  const xM = d => 691 + d * 3.9;
  const yM = v => 839 - v * 7.87;
  const frame = mk('rect', {x: 628, y: 711, width: 232, height: 135, fill: 'none', stroke: '#999', 'stroke-width': 0.8}, g);
  
  
  const cg = mk('g', {'clip-path': 'url(#clipM)'}, g);
  [-1.5, -0.9, -0.3, 0.3, 0.9, 1.5].forEach(o => {
    const p = mk('polyline', {points: pts(mNfsX, mNfsY, d => xM(d + o * 1.2), v => yM(v - o * 0.25)), fill: 'none', stroke: '#5a5ae8', 'stroke-width': 0.7}, cg);
    
    
  });
  [-0.2, 0, 0.2].forEach(o => {
    const p = mk('polyline', {points: pts(mQpoX, mQpoY, d => xM(d + o * 3), v => yM(v + o)), fill: 'none', stroke: '#e04040', 'stroke-width': 0.9}, cg);
    
    
  });
  const lp = mk('polyline', {points: pts(mLoopX, mLoopY, xM, yM), fill: 'none', stroke: '#e04040', 'stroke-width': 0.8}, cg);
  
  
  mYTicks.forEach(v => {
    mk('line', {x1: 625, x2: 628, y1: yM(v), y2: yM(v), stroke: '#888'}, g);
    const t = txt(623, yM(v) + 3, String(v), 'tk', 'end', g);
    
    
  });
  mXTicks.forEach(v => {
    mk('line', {x1: xM(v), x2: xM(v), y1: 846, y2: 849, stroke: '#888'}, g);
    const t = txt(xM(v), 858, v < 0 ? '−' + (-v) : String(v), 'tk', 'middle', g);
    
    
  });
  const xt = txt(746, 873, '', 'lb', 'middle', g);
  xt.innerHTML = 'Normalized △<tspan font-style="italic">D</tspan> (organics contents)';
  
  
  const yt = txt(0, 0, '', 'lb', 'middle', g);
  yt.innerHTML = '△<tspan font-style="italic">m</tspan> (10<tspan font-size="6" dy="-3">3</tspan><tspan dy="3"> ng cm</tspan><tspan font-size="6" dy="-3">−2</tspan><tspan dy="3">)</tspan>';
  yt.setAttribute('transform', 'translate(604,778) rotate(-90)');
  
  
  const l1 = mk('line', {x1: 640, x2: 653, y1: 721, y2: 721, stroke: '#e04040', 'stroke-width': 1.2}, g);
  
  
  const lt1 = txt(656, 724, 'QPO-NFS', 'tk', 'start', g);
  
  
  const l2 = mk('line', {x1: 718, x2: 732, y1: 721, y2: 721, stroke: '#5a5ae8', 'stroke-width': 1.2}, g);
  
  
  const lt2 = txt(737, 724, 'NFS', 'tk', 'start', g);
  
  
  [['Solvent-dominant', 724], ['decomposition', 735], ['Anion-dominant', 800], ['decomposition', 811]].forEach(a => {
    const t = txt(855, a[1], a[0], 'tk', 'end', g);
    
    
  });
  const ar = mk('rect', {x: 845.5, y: 765, width: 3, height: 18, fill: 'url(#arrowGrad)'}, g);
  
  
  mk('polygon', {points: '843,782 851,782 847,788', fill: '#d03040'}, g);
  const ins = mk('g', {}, g);
  
  
  mk('circle', {cx: 685, cy: 768, r: 28, fill: '#fff'}, ins);
  mk('rect', {x: 655, y: 738, width: 15, height: 60, fill: 'url(#insetDark)', 'clip-path': 'url(#clipCirc)'}, ins);
  [750, 762, 774, 786].forEach(y => mk('circle', {cx: 667, cy: y, r: 0.9, fill: '#222'}, ins));
  mk('circle', {cx: 686, cy: 751, r: 6.5, fill: '#f0a8a0'}, ins);
  mk('circle', {cx: 686, cy: 787, r: 6.5, fill: '#f0a8a0'}, ins);
  mk('ellipse', {cx: 698, cy: 770, rx: 4, ry: 5.5, fill: '#4c6cf0', transform: 'rotate(-40 698 770)'}, ins);
  mk('path', {d: 'M684,746 C674,752 672,770 676,776 C678,784 682,788 686,790', fill: 'none', stroke: '#e05050', 'stroke-width': 0.7}, ins);
  const e1 = txt(678, 763, 'e⁻', 'tk', 'start', ins); e1.style.fontSize = '6px'; e1.style.fill = '#e05050';
  
  
  const e2 = txt(678, 773, 'e⁻', 'tk', 'start', ins); e2.style.fontSize = '6px'; e2.style.fill = '#e05050';
  
  
  mk('circle', {cx: 685, cy: 768, r: 28, fill: 'none', stroke: '#333', 'stroke-width': 0.9}, ins);
  mk('line', {x1: 672, y1: 738, x2: 672, y2: 798, stroke: '#333', 'stroke-width': 0.6, 'clip-path': 'url(#clipCirc)'}, ins);
  const qn = txt(0, 0, 'QPO-NFS', 'tk', 'middle', ins);
  qn.setAttribute('transform', 'translate(652,768) rotate(-90)');
  
  
  mk('line', {x1: 705, y1: 770, x2: 720, y2: 770, stroke: '#4c6cf0', 'stroke-width': 0.7, 'stroke-dasharray': '1.5,1'}, ins);
  mk('polygon', {points: '720,767 725,770 720,773', fill: '#3050e0'}, ins);
  const sv = txt(727, 773, 'Solvent', 'tk', 'start', ins); sv.style.fontSize = '7px';
  
  
  mk('line', {x1: 676, y1: 795, x2: 668, y2: 803, stroke: '#e05050', 'stroke-width': 0.6, 'stroke-dasharray': '1.5,1'}, ins);
  mk('polygon', {points: '664,803 670,801 667,807', fill: '#e03030'}, ins);
  const an = txt(654, 812, 'Anion', 'tk', 'start', ins); an.style.fontSize = '7px';
  
  
})();
</script>
</body></html>
